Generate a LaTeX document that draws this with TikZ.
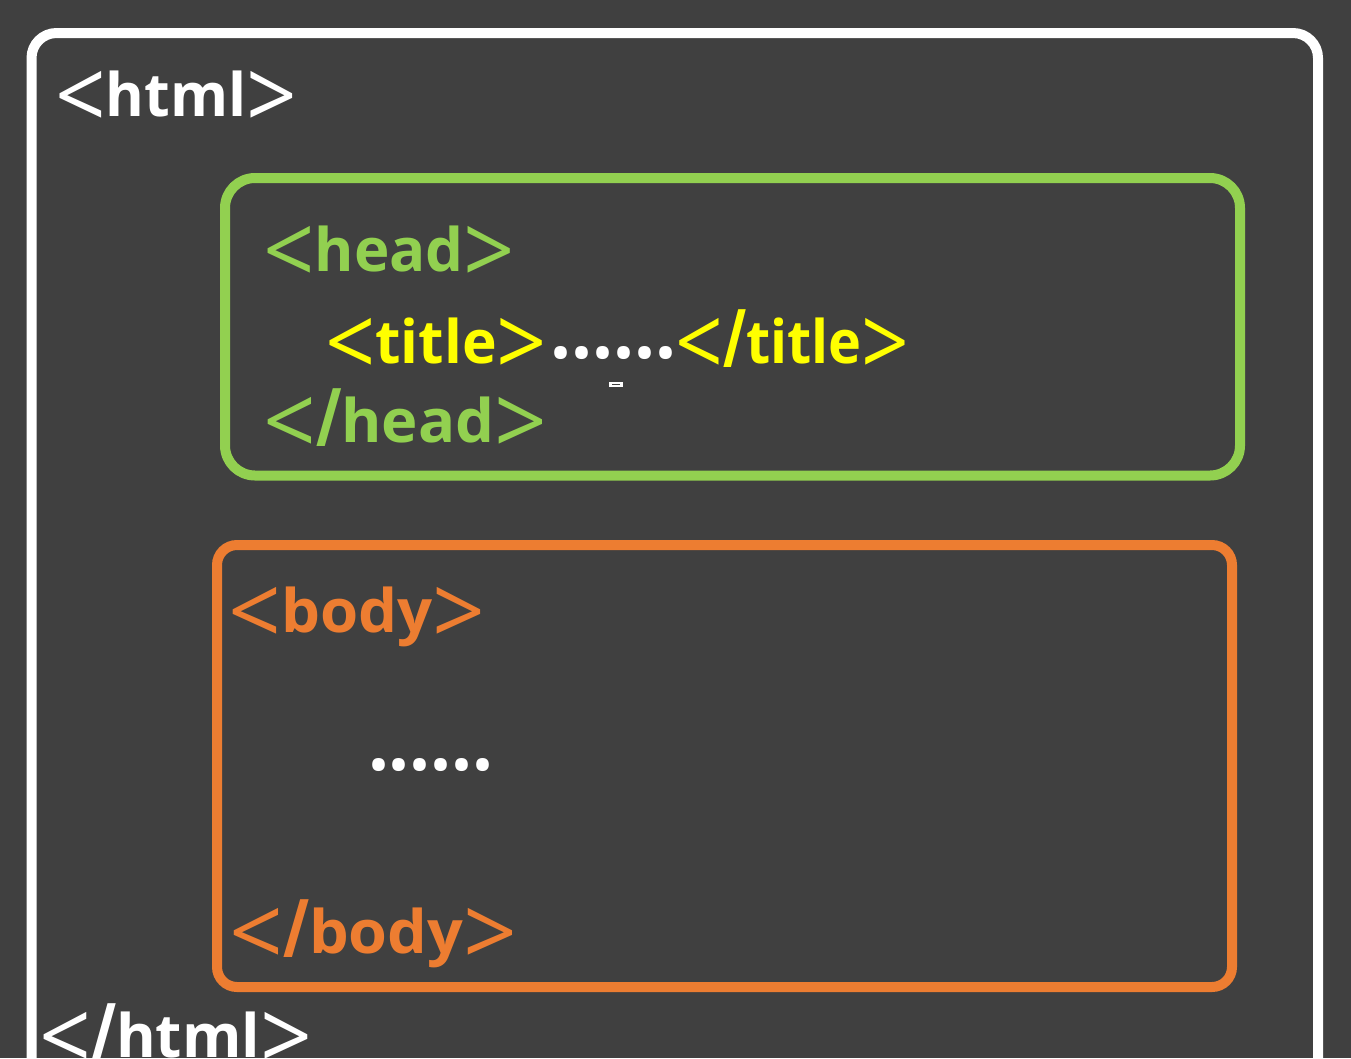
\documentclass[tikz,border=0pt]{standalone}
\usepackage{fontspec}
\setmainfont{Open Sans}
\definecolor{bg}{HTML}{404040}
\definecolor{hgreen}{HTML}{92D050}
\definecolor{borange}{HTML}{ED7D31}
\definecolor{tyellow}{HTML}{FFFF00}
\newcommand\fitw[2]{\resizebox{#1}{\height}{#2}}
\newcommand\dotrow[1]{\resizebox{#1}{12pt}{\textbf{......}}}
\newcommand\ltb{\raisebox{-13pt}[44pt][0pt]{\scalebox{1.5}[1.6]{\mdseries<}}}
\newcommand\gtb{\raisebox{-13pt}[44pt][0pt]{\scalebox{1.5}[1.6]{\mdseries>}}}
\newcommand\slsh{\raisebox{-4pt}[50pt][0pt]{\scalebox{1}[1.35]{/}}}
\begin{document}
\begin{tikzpicture}[x=1pt,y=-1pt,
  tag/.style={anchor=base west, inner sep=0pt, font=\fontsize{60}{72}\selectfont\bfseries},
  dots/.style={anchor=center, inner sep=0pt, text=white, font=\fontsize{60}{72}\selectfont},
  frame/.style={line width=10pt}]
\useasboundingbox (0,0) rectangle (1351,1058);
\fill[bg] (0,0) rectangle (1351,1058);
% frames
\draw[frame, white, rounded corners=25pt] (31.5,1150) -- (31.5,33) -- (1318,33) -- (1318,1150);
\draw[frame, hgreen, rounded corners=30pt] (225,178) rectangle (1240,475.5);
\draw[frame, borange, rounded corners=20pt] (217,545) rectangle (1232,987);
% texts
\node[tag, text=white] (html) at (55,116) {\fitw{242pt}{\ltb html\gtb}};
\node[tag, text=hgreen] (head) at (263,271) {\fitw{252pt}{\ltb head\gtb}};
\node[tag, text=tyellow] (title) at (325,363) {\fitw{222pt}{\ltb title\gtb}};
\node[dots] (tdots) at (613.5,353) {\dotrow{126pt}};
\node[tag, text=tyellow] (etitle) at (675,363) {\fitw{234pt}{\ltb\slsh title\gtb}};
\node[tag, text=hgreen] (ehead) at (263,442) {\fitw{284pt}{\ltb\slsh head\gtb}};
\node[tag, text=borange] (body) at (228,632) {\fitw{257pt}{\ltb body\gtb}};
\node[dots] (bdots) at (431,765) {\dotrow{126pt}};
\node[tag, text=borange] (ebody) at (229,953) {\fitw{288pt}{\ltb\slsh body\gtb}};
\node[tag, text=white] (ehtml) at (39,1057) {\fitw{273pt}{\ltb\slsh html\gtb}};
% small mark
\fill[white] (609,382) rectangle (623,387);
\draw[bg, line width=1pt] (612,384.5) -- (620,384.5);
\end{tikzpicture}
\end{document}
